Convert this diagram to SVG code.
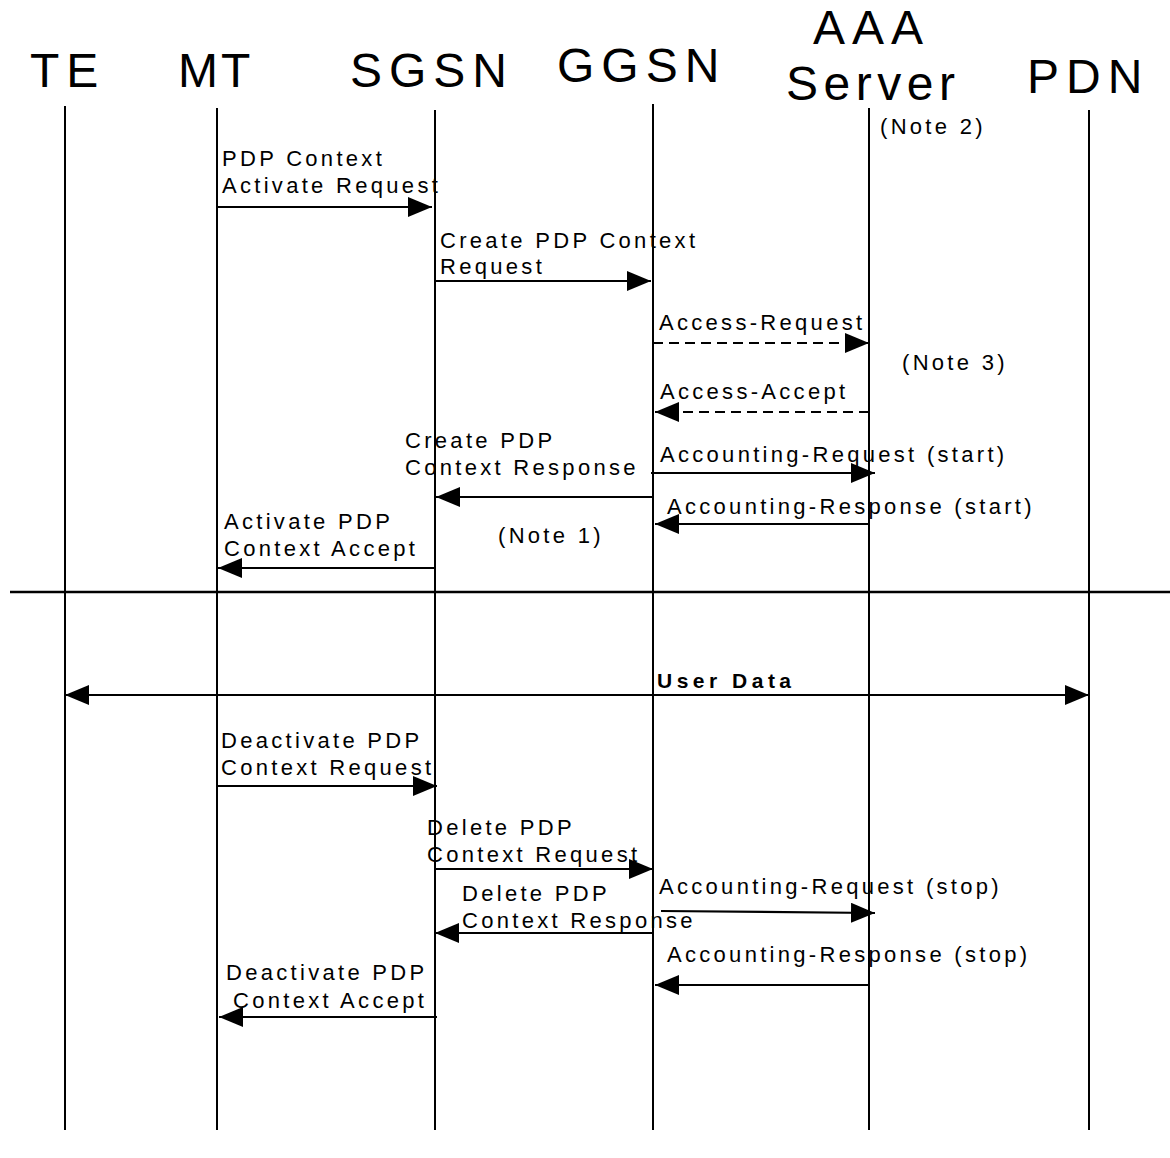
<svg xmlns="http://www.w3.org/2000/svg" width="1170" height="1158" viewBox="0 0 1170 1158">
<style>
.title{font-family:"Liberation Sans",Arial,sans-serif;font-size:48px;letter-spacing:7px;fill:#000}
.lbl{font-family:"Liberation Sans",Arial,sans-serif;font-size:22px;letter-spacing:3.3px;fill:#000}
.bold{font-family:"Liberation Sans",Arial,sans-serif;font-size:21px;font-weight:bold;letter-spacing:4.5px;fill:#000}
.life{stroke:#000;stroke-width:2;fill:none}
.msg{stroke:#000;stroke-width:2.2;fill:none;marker-end:url(#ah)}
.dash{stroke-dasharray:10 6}
</style>
<defs>
<marker id="ah" markerUnits="userSpaceOnUse" markerWidth="24" markerHeight="20" refX="24" refY="10" orient="auto-start-reverse" viewBox="0 0 24 20">
<path d="M0,0 L24,10 L0,20 z" fill="#000"/>
</marker>
</defs>
<rect width="1170" height="1158" fill="#fff"/>
<g id="TE"><text class="title" x="30" y="87">TE</text><line class="life" x1="65" y1="106" x2="65" y2="1130"/></g>
<g id="MT"><text class="title" x="178" y="87" style="letter-spacing:3px">MT</text><line class="life" x1="217" y1="108" x2="217" y2="1130"/></g>
<g id="SGSN"><text class="title" x="350" y="87">SGSN</text><line class="life" x1="435" y1="110" x2="435" y2="1130"/></g>
<g id="GGSN"><text class="title" x="557" y="82">GGSN</text><line class="life" x1="653" y1="104" x2="653" y2="1130"/></g>
<g id="AAA"><text class="title" x="813" y="44">AAA</text><text class="title" x="786" y="100" style="letter-spacing:5.5px">Server</text><text class="lbl" x="880" y="134">(Note 2)</text><line class="life" x1="869" y1="108" x2="869" y2="1130"/></g>
<g id="PDN"><text class="title" x="1027" y="93">PDN</text><line class="life" x1="1089" y1="110" x2="1089" y2="1130"/></g>
<line id="divider" x1="10" y1="592" x2="1170" y2="592" stroke="#000" stroke-width="2.5"/>
<g id="connectors">
<g id="m1"><text class="lbl" x="222" y="166">PDP Context</text><text class="lbl" x="222" y="193">Activate Request</text><line class="msg" x1="217" y1="207" x2="432" y2="207"/></g>
<g id="m2"><text class="lbl" x="440" y="248">Create PDP Context</text><text class="lbl" x="440" y="274">Request</text><line class="msg" x1="435" y1="281" x2="651" y2="281"/></g>
<g id="m3"><text class="lbl" x="659" y="330">Access-Request</text><line class="msg dash" x1="653" y1="343" x2="869" y2="343"/></g>
<text class="lbl" x="902" y="370">(Note 3)</text>
<g id="m4"><text class="lbl" x="660" y="399">Access-Accept</text><line class="msg dash" x1="869" y1="412" x2="655" y2="412"/></g>
<g id="m5"><text class="lbl" x="660" y="462">Accounting-Request (start)</text><line class="msg" x1="651" y1="473" x2="875" y2="473"/></g>
<g id="m6"><text class="lbl" x="405" y="448">Create PDP</text><text class="lbl" x="405" y="475">Context Response</text><line class="msg" x1="653" y1="497" x2="436" y2="497"/></g>
<g id="m7"><text class="lbl" x="667" y="514">Accounting-Response (start)</text><line class="msg" x1="869" y1="524" x2="655" y2="524"/></g>
<text class="lbl" x="498" y="543">(Note 1)</text>
<g id="m8"><text class="lbl" x="224" y="529">Activate PDP</text><text class="lbl" x="224" y="556">Context Accept</text><line class="msg" x1="435" y1="568" x2="218" y2="568"/></g>
<g id="m9"><text class="bold" x="657" y="688">User Data</text><line class="msg" style="marker-start:url(#ah)" x1="65" y1="695" x2="1089" y2="695"/></g>
<g id="m10"><text class="lbl" x="221" y="748">Deactivate PDP</text><text class="lbl" x="221" y="775">Context Request</text><line class="msg" x1="217" y1="786" x2="437" y2="786"/></g>
<g id="m11"><text class="lbl" x="427" y="835">Delete PDP</text><text class="lbl" x="427" y="862">Context Request</text><line class="msg" x1="435" y1="869" x2="653" y2="869"/></g>
<g id="m12"><text class="lbl" x="659" y="894">Accounting-Request (stop)</text><line class="msg" x1="661" y1="911" x2="875" y2="913"/></g>
<g id="m13"><text class="lbl" x="462" y="901">Delete PDP</text><text class="lbl" x="462" y="928">Context Response</text><line class="msg" x1="653" y1="933" x2="435" y2="933"/></g>
<g id="m14"><text class="lbl" x="667" y="962">Accounting-Response (stop)</text><line class="msg" x1="869" y1="985" x2="655" y2="985"/></g>
<g id="m15"><text class="lbl" x="226" y="980">Deactivate PDP</text><text class="lbl" x="233" y="1008">Context Accept</text><line class="msg" x1="437" y1="1017" x2="219" y2="1017"/></g>
</g>
</svg>
